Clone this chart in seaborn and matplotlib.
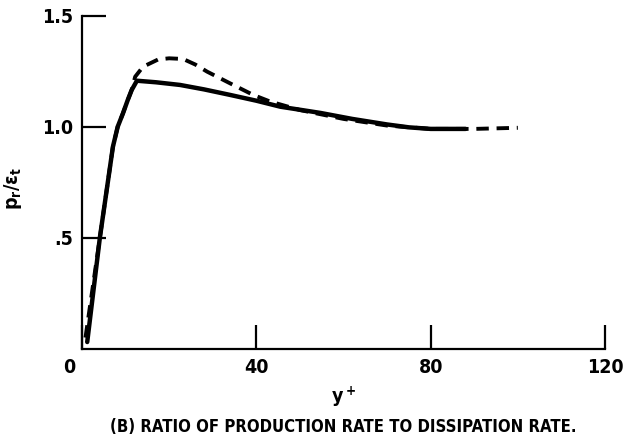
import matplotlib
matplotlib.use('Agg')
import matplotlib.pyplot as plt
import matplotlib.transforms as mtrans
import pandas as pd
import seaborn as sns

# solid curve
solid_x = [1.2, 4.1, 7.1, 8.2, 9.4, 10.5, 11.4, 12.6, 17, 22.5, 28, 34, 40, 45.5, 54.7, 62, 70, 75, 80, 88]
solid_y = [0.03, 0.5, 0.91, 1.0, 1.06, 1.12, 1.165, 1.207, 1.2, 1.188, 1.168, 1.143, 1.117, 1.09, 1.062, 1.035, 1.01, 0.997, 0.99, 0.99]

# dashed curve
dash_x = [0.8, 4.1, 7.1, 8.2, 9.4, 10.5, 11.4, 12.2, 14, 17.5, 20, 23.2, 26, 28.7, 34, 39.3, 43.2, 50, 60, 70, 80, 90, 100]
dash_y = [0.05, 0.5, 0.91, 1.0, 1.06, 1.12, 1.165, 1.225, 1.27, 1.303, 1.308, 1.305, 1.28, 1.248, 1.195, 1.143, 1.113, 1.075, 1.035, 1.005, 0.99, 0.99, 0.995]

x_ticks = [0, 40, 80, 120]
x_ticklabels = ['0', '40', '80', '120']
y_ticks = [0.5, 1.0, 1.5]
y_ticklabels = ['.5', '1.0', '1.5']

sns.set_style('ticks')
plt.rcParams['font.family'] = ['DejaVu Sans']
plt.rcParams['font.stretch'] = 'condensed'
plt.rcParams['text.color'] = 'black'
plt.rcParams['axes.labelcolor'] = 'black'
plt.rcParams['mathtext.fontset'] = 'dejavusans'

df_s = pd.DataFrame({'x': solid_x, 'y': solid_y})
df_d = pd.DataFrame({'x': dash_x, 'y': dash_y})

fig = plt.figure(figsize=(6.42, 4.43), dpi=100)
ax = fig.add_axes([0.1277, 0.2129, 0.8147, 0.7517])

sns.lineplot(data=df_d, x='x', y='y', ax=ax, color='black', lw=2.8,
             linestyle=(0, (3.2, 2.0)), sort=False)
sns.lineplot(data=df_s, x='x', y='y', ax=ax, color='black', lw=3.2, sort=False)

ax.set_xlim(0, 120)
ax.set_ylim(0, 1.5)
ax.set_xticks(x_ticks)
ax.set_xticklabels(x_ticklabels)
ax.set_yticks(y_ticks)
ax.set_yticklabels(y_ticklabels)
ax.tick_params(direction='in', length=17, width=1.6, labelsize=14, pad=6.5,
               colors='black')
for lab in ax.get_xticklabels() + ax.get_yticklabels():
    lab.set_fontweight('bold')
    lab.set_fontstretch('condensed')

# the "0" label sits a little left of the corner
zero = ax.get_xticklabels()[0]
zero.set_transform(zero.get_transform() +
                   mtrans.ScaledTranslation(-0.13, 0, fig.dpi_scale_trans))

sns.despine(ax=ax)
for s in ['left', 'bottom']:
    ax.spines[s].set_linewidth(1.6)
    ax.spines[s].set_color('black')

ax.set_xlabel(r'$\mathbf{y^+}$', fontsize=14, labelpad=6)
ax.set_ylabel(r'$\mathbf{p_r/\epsilon_t}$', fontsize=14)
ax.yaxis.set_label_coords(-0.111, 0.48)

fig.text(0.534, 0.037, '(B) RATIO OF PRODUCTION RATE TO DISSIPATION RATE.',
         ha='center', va='center', fontsize=12, fontweight='bold',
         fontstretch='condensed')

plt.savefig('out.png', dpi=100)
